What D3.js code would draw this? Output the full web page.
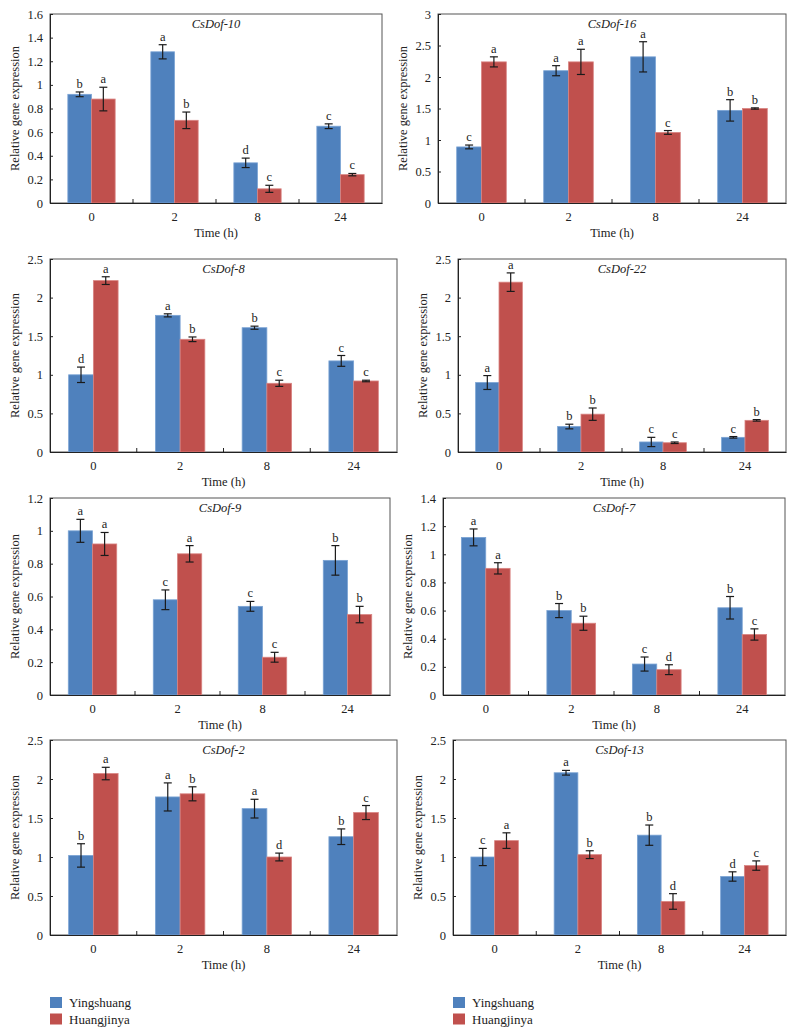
<!DOCTYPE html>
<html>
<head>
<meta charset="utf-8">
<script src="https://cdn.jsdelivr.net/npm/d3@7"></script>
<style>
  html, body { margin: 0; padding: 0; background: #fff; }
  svg { display: block; }
  text { font-family: "Liberation Serif", "DejaVu Serif", serif; fill: #222; }
</style>
</head>
<body>
<svg id="chart" width="794" height="1035"></svg>
<script>
// ---------------- data ----------------
const times = ["0", "2", "8", "24"];
const genes = ["CsDof-10", "CsDof-16", "CsDof-8", "CsDof-22", "CsDof-9", "CsDof-7", "CsDof-2", "CsDof-13"];
const seriesNames = ["Yingshuang", "Huangjinya"];

const yMax  = [1.6, 3, 2.5, 2.5, 1.2, 1.4, 2.5, 2.5];
const yStep = [0.2, 0.5, 0.5, 0.5, 0.2, 0.2, 0.5, 0.5];

const yingMean = [
  [0.92, 1.28, 0.34, 0.65],
  [0.89, 2.10, 2.32, 1.47],
  [1.00, 1.77, 1.61, 1.18],
  [0.90, 0.33, 0.13, 0.19],
  [1.00, 0.58, 0.54, 0.82],
  [1.12, 0.60, 0.22, 0.62],
  [1.02, 1.77, 1.62, 1.26],
  [1.00, 2.08, 1.28, 0.75]
];
const yingErr = [
  [0.02, 0.06, 0.04, 0.02],
  [0.03, 0.08, 0.24, 0.17],
  [0.10, 0.02, 0.02, 0.07],
  [0.09, 0.03, 0.06, 0.01],
  [0.07, 0.06, 0.03, 0.09],
  [0.06, 0.05, 0.05, 0.08],
  [0.15, 0.18, 0.12, 0.10],
  [0.11, 0.03, 0.13, 0.06]
];
const yingSig = [
  ["b", "a", "d", "c"],
  ["c", "a", "a", "b"],
  ["d", "a", "b", "c"],
  ["a", "b", "c", "c"],
  ["a", "c", "c", "b"],
  ["a", "b", "c", "b"],
  ["b", "a", "a", "b"],
  ["c", "a", "b", "d"]
];
const huangMean = [
  [0.88, 0.70, 0.12, 0.24],
  [2.24, 2.24, 1.12, 1.50],
  [2.22, 1.46, 0.89, 0.92],
  [2.20, 0.49, 0.12, 0.41],
  [0.92, 0.86, 0.23, 0.49],
  [0.90, 0.51, 0.18, 0.43],
  [2.07, 1.81, 1.00, 1.57],
  [1.21, 1.03, 0.43, 0.89]
];
const huangErr = [
  [0.10, 0.07, 0.03, 0.01],
  [0.08, 0.20, 0.03, 0.01],
  [0.05, 0.03, 0.04, 0.01],
  [0.12, 0.08, 0.01, 0.01],
  [0.07, 0.05, 0.03, 0.05],
  [0.04, 0.05, 0.035, 0.04],
  [0.08, 0.09, 0.05, 0.09],
  [0.10, 0.05, 0.10, 0.06]
];
const huangSig = [
  ["a", "b", "c", "c"],
  ["a", "a", "c", "b"],
  ["a", "b", "c", "c"],
  ["a", "b", "c", "b"],
  ["a", "a", "c", "b"],
  ["a", "b", "d", "c"],
  ["a", "b", "d", "c"],
  ["a", "b", "d", "c"]
];

// ---------------- layout ----------------
const colors = ["#4F81BD", "#C0504D"];
const strokeColors = ["#7AA3D4", "#D98482"];
const boxes = [
  { l: 50,  r: 382, t: 14,  b: 203 },
  { l: 438, r: 786, t: 14,  b: 203 },
  { l: 50,  r: 397, t: 259, b: 452 },
  { l: 458, r: 786, t: 259, b: 452 },
  { l: 50,  r: 390, t: 498, b: 695 },
  { l: 443, r: 785, t: 498, b: 695 },
  { l: 50,  r: 397, t: 740, b: 935 },
  { l: 453, r: 786, t: 740, b: 935 }
];

const svg = d3.select("#chart");

genes.forEach((gene, i) => {
  const box = boxes[i];
  const g = svg.append("g");

  const x = d3.scaleBand().domain(times).range([box.l, box.r]).paddingInner(0).paddingOuter(0);
  const y = d3.scaleLinear().domain([0, yMax[i]]).range([box.b, box.t]);
  const barW = x.bandwidth() * 0.285;

  // frame (top/right)
  g.append("rect")
    .attr("x", box.l).attr("y", box.t)
    .attr("width", box.r - box.l).attr("height", box.b - box.t)
    .attr("fill", "none").attr("stroke", "#555").attr("stroke-width", 1);

  const series = [
    { mean: yingMean[i], err: yingErr[i], sig: yingSig[i] },
    { mean: huangMean[i], err: huangErr[i], sig: huangSig[i] }
  ];

  series.forEach((s, si) => {
    const data = times.map((t, k) => ({ t, v: s.mean[k], e: s.err[k], sig: s.sig[k] }));
    const cx = d => x(d.t) + x.bandwidth() / 2 + (si === 0 ? -barW : 0);

    g.selectAll(null).data(data).enter().append("rect")
      .attr("x", cx)
      .attr("y", d => y(d.v))
      .attr("width", barW)
      .attr("height", d => y(0) - y(d.v))
      .attr("fill", colors[si])
      .attr("stroke", strokeColors[si])
      .attr("stroke-width", 0.8);

    const mid = d => cx(d) + barW / 2;
    const eb = g.selectAll(null).data(data).enter().append("g")
      .attr("stroke", "#1a1a1a").attr("stroke-width", 1.2);
    eb.append("line")
      .attr("x1", mid).attr("x2", mid)
      .attr("y1", d => y(d.v - d.e)).attr("y2", d => y(d.v + d.e));
    eb.append("line")
      .attr("x1", d => mid(d) - 4).attr("x2", d => mid(d) + 4)
      .attr("y1", d => y(d.v + d.e)).attr("y2", d => y(d.v + d.e));
    eb.append("line")
      .attr("x1", d => mid(d) - 4).attr("x2", d => mid(d) + 4)
      .attr("y1", d => y(d.v - d.e)).attr("y2", d => y(d.v - d.e));

    g.selectAll(null).data(data).enter().append("text")
      .attr("x", mid)
      .attr("y", d => y(d.v + d.e) - 4)
      .attr("text-anchor", "middle")
      .attr("font-size", 12.5)
      .text(d => d.sig);
  });

  // y axis
  const ticks = d3.range(0, yMax[i] + yStep[i] / 2, yStep[i]).map(v => +v.toFixed(2));
  const yAxis = d3.axisLeft(y).tickValues(ticks).tickSize(-3).tickPadding(7)
    .tickFormat(d => String(d));
  const ya = g.append("g").attr("transform", `translate(${box.l},0)`).call(yAxis);
  ya.select(".domain").attr("stroke", "#222");
  ya.selectAll(".tick line").attr("stroke", "#222");
  ya.selectAll(".tick text").attr("font-size", 12.5).attr("fill", "#222")
    .style("font-family", '"Liberation Serif", serif');

  // x axis: labels centered, ticks at band boundaries (inward)
  const xa = g.append("g").attr("transform", `translate(0,${box.b})`)
    .call(d3.axisBottom(x).tickSize(0).tickPadding(9));
  xa.select(".domain").attr("stroke", "#222");
  xa.selectAll(".tick text").attr("font-size", 12.5).attr("fill", "#222")
    .style("font-family", '"Liberation Serif", serif');
  g.selectAll(null).data(times.slice(1)).enter().append("line")
    .attr("x1", d => x(d)).attr("x2", d => x(d))
    .attr("y1", box.b).attr("y2", box.b - 4)
    .attr("stroke", "#222").attr("stroke-width", 1);

  // title
  g.append("text")
    .attr("x", (box.l + box.r) / 2).attr("y", box.t + 14)
    .attr("text-anchor", "middle").attr("font-size", 12.5)
    .attr("font-style", "italic")
    .text(gene);

  // axis titles
  g.append("text")
    .attr("x", (box.l + box.r) / 2).attr("y", box.b + 34)
    .attr("text-anchor", "middle").attr("font-size", 12.5)
    .text("Time (h)");
  g.append("text")
    .attr("transform", `translate(${box.l - 31},${(box.t + box.b) / 2}) rotate(-90)`)
    .attr("text-anchor", "middle").attr("font-size", 12.5)
    .text("Relative gene expression");
});

// legends
const legendPos = [{ x: 50, y: 997 }, { x: 453, y: 997 }];
legendPos.forEach(p => {
  const lg = svg.append("g").attr("transform", `translate(${p.x},${p.y})`);
  seriesNames.forEach((name, k) => {
    lg.append("rect").attr("x", 0).attr("y", k * 16.5).attr("width", 12).attr("height", 11)
      .attr("fill", colors[k]);
    lg.append("text").attr("x", 19).attr("y", k * 16.5 + 10).attr("font-size", 13).text(name);
  });
});
</script>
</body>
</html>
